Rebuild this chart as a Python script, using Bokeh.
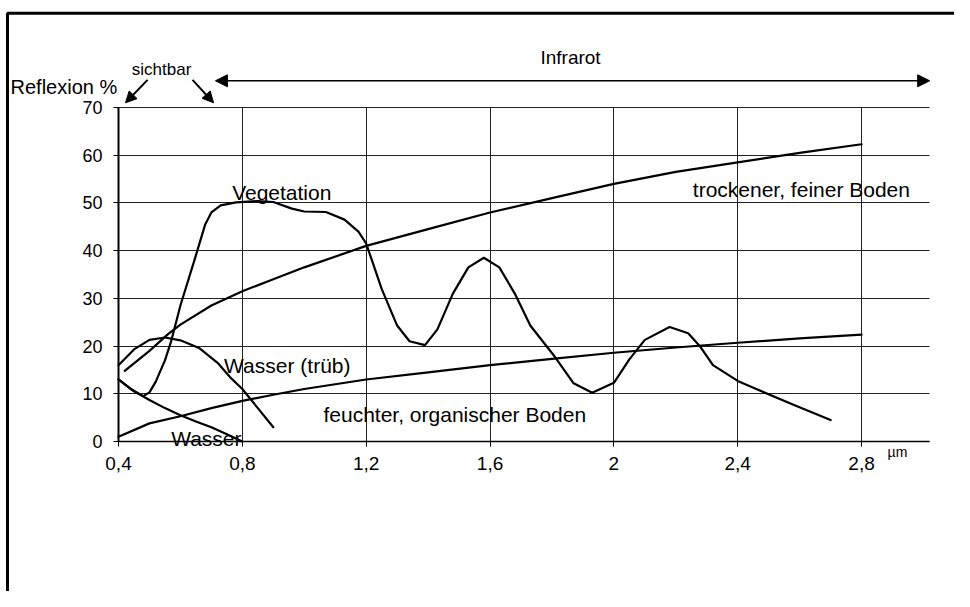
from bokeh.plotting import figure
from bokeh.models import Range1d, FixedTicker, Label, Arrow, NormalHead
from bokeh.embed import file_html
from bokeh.resources import INLINE

# ---- data ----
x_ticks = [0.4, 0.8, 1.2, 1.6, 2.0, 2.4, 2.8]
x_tick_labels = ["0,4", "0,8", "1,2", "1,6", "2", "2,4", "2,8"]
y_ticks = [0, 10, 20, 30, 40, 50, 60, 70]

veg_x = [0.4, 0.44, 0.48, 0.5, 0.52, 0.55, 0.57, 0.6, 0.65, 0.68, 0.7, 0.73, 0.78, 0.85,
         0.9, 0.96, 1.0, 1.07, 1.13, 1.175, 1.2, 1.25, 1.3, 1.34, 1.39, 1.43, 1.48, 1.53,
         1.58, 1.63, 1.68, 1.73, 1.81, 1.87, 1.93, 2.0, 2.05, 2.1, 2.18, 2.24, 2.28, 2.32,
         2.4, 2.46, 2.58, 2.7]
veg_y = [13, 11, 9.5, 10.3, 12.5, 17, 21, 28.5, 39, 45.5, 48, 49.5, 50.1, 50.4,
         50.2, 48.8, 48.2, 48.1, 46.5, 44, 41.5, 32, 24.3, 21, 20.2, 23.5, 31, 36.5,
         38.5, 36.5, 31, 24.3, 17.7, 12.2, 10.2, 12.3, 17.2, 21.3, 24, 22.7, 19.8, 16,
         12.7, 11, 7.7, 4.5]

dry_x = [0.42, 0.5, 0.56, 0.6, 0.7, 0.8, 0.9, 1.0, 1.2, 1.4, 1.6, 1.8, 2.0, 2.2, 2.4, 2.6, 2.8]
dry_y = [14.8, 19, 22.5, 24.5, 28.5, 31.5, 34, 36.5, 41, 44.5, 48, 51, 54, 56.5, 58.5, 60.5, 62.3]

wet_x = [0.4, 0.5, 0.6, 0.7, 0.8, 0.9, 1.0, 1.2, 1.4, 1.6, 1.8, 2.0, 2.2, 2.4, 2.6, 2.8]
wet_y = [1, 3.8, 5.3, 7, 8.5, 9.8, 11, 13, 14.5, 16, 17.3, 18.6, 19.7, 20.7, 21.6, 22.4]

turbid_x = [0.4, 0.45, 0.5, 0.55, 0.6, 0.66, 0.72, 0.76, 0.8, 0.85, 0.9]
turbid_y = [16, 19.3, 21.3, 21.8, 21.2, 19.6, 16.5, 13.5, 11, 7, 3]

water_x = [0.4, 0.45, 0.5, 0.55, 0.6, 0.65, 0.7, 0.75, 0.8]
water_y = [13, 10.5, 8.7, 7, 5.5, 4.2, 3, 1.5, 0]

FONT = "Liberation Sans"
X_MIN, X_MAX = 0.4, 3.02
Y_MIN, Y_MAX = 0, 70

# the frame covers the whole canvas; axes are pinned at x=0.4 / y=0
p = figure(width=954, height=591, output_backend="svg", toolbar_location=None,
           x_range=Range1d(0.01886, 3.1002), y_range=Range1d(-31.437, 92.425),
           min_border=0)
p.outline_line_color = None
p.background_fill_color = "white"
p.border_fill_color = "white"

p.xaxis.ticker = FixedTicker(ticks=x_ticks)
p.yaxis.ticker = FixedTicker(ticks=y_ticks)
p.xaxis.major_label_overrides = {t: l for t, l in zip(x_ticks, x_tick_labels)}
p.xaxis.fixed_location = Y_MIN
p.yaxis.fixed_location = X_MIN
p.xaxis.bounds = (X_MIN, X_MAX)
p.yaxis.bounds = (Y_MIN, Y_MAX)
for ax in (p.xaxis, p.yaxis):
    ax.major_label_text_font = FONT
    ax.major_label_text_color = "black"
    ax.axis_line_color = "black"
    ax.major_tick_line_color = "black"
    ax.major_tick_out = 5
    ax.major_tick_in = 0
    ax.minor_tick_line_color = None
p.yaxis.major_label_text_font_size = "18px"
p.xaxis.major_label_text_font_size = "19px"
p.yaxis.axis_line_width = 2
p.xaxis.axis_line_width = 1.5
p.yaxis.major_label_standoff = 11
p.xaxis.major_label_standoff = 10

p.xgrid.ticker = FixedTicker(ticks=x_ticks)
p.ygrid.ticker = FixedTicker(ticks=y_ticks)
p.grid.grid_line_color = "#222222"
p.grid.grid_line_width = 1
p.grid.grid_line_alpha = 1
try:
    p.xgrid.cross_bounds = (Y_MIN, Y_MAX)
    p.ygrid.cross_bounds = (X_MIN, X_MAX)
    p.xgrid.bounds = (X_MIN, X_MAX)
    p.ygrid.bounds = (Y_MIN, Y_MAX)
except Exception:
    p.grid.visible = False
    p.segment(x0=x_ticks, y0=[Y_MIN] * len(x_ticks), x1=x_ticks, y1=[Y_MAX] * len(x_ticks),
              line_color="#222222", line_width=1)
    p.segment(x0=[X_MIN] * len(y_ticks), y0=y_ticks, x1=[X_MAX] * len(y_ticks), y1=y_ticks,
              line_color="#222222", line_width=1)

for xs, ys in [(veg_x, veg_y), (dry_x, dry_y), (wet_x, wet_y), (turbid_x, turbid_y), (water_x, water_y)]:
    p.line(xs, ys, line_color="black", line_width=2.2, line_join="round", line_cap="round")

def lab(x, y, t, size="21px", align="left", baseline="alphabetic"):
    p.add_layout(Label(x=x, y=y, text=t, text_font=FONT, text_font_size=size,
                       text_color="black", text_align=align, text_baseline=baseline))

lab(0.767, 52.2, "Vegetation")
lab(2.255, 52.9, "trockener, feiner Boden")
lab(0.741, 15.85, "Wasser (trüb)")
lab(1.062, 5.75, "feuchter, organischer Boden")
lab(0.57, 0.6, "Wasser")
lab(0.0512, 74.2, "Reflexion %", "20px", "left", "middle")
lab(0.539, 78.0, "sichtbar", "17px", "center", "middle")
lab(1.86, 80.5, "Infrarot", "19px", "center", "middle")
lab(2.916, -2.3, "µm", "14px", "center", "middle")

# arrows
p.add_layout(Arrow(end=NormalHead(size=11, fill_color="black", line_color="black"),
                   x_start=0.494, y_start=75.8, x_end=0.4226, y_end=71.0,
                   line_color="black", line_width=2))
p.add_layout(Arrow(end=NormalHead(size=11, fill_color="black", line_color="black"),
                   x_start=0.639, y_start=75.8, x_end=0.707, y_end=71.0,
                   line_color="black", line_width=2))
p.add_layout(Arrow(start=NormalHead(size=12, fill_color="black", line_color="black"),
                   end=NormalHead(size=12, fill_color="black", line_color="black"),
                   x_start=0.713, y_start=75.6, x_end=3.02, y_end=75.6,
                   line_color="black", line_width=1.6))

# outer frame (top and left edges of the scanned figure box)
p.line([3.3, 0.0415, 0.0415], [89.76, 89.76, -40], line_color="black", line_width=3)

open("out.html", "w").write(file_html(p, INLINE))
